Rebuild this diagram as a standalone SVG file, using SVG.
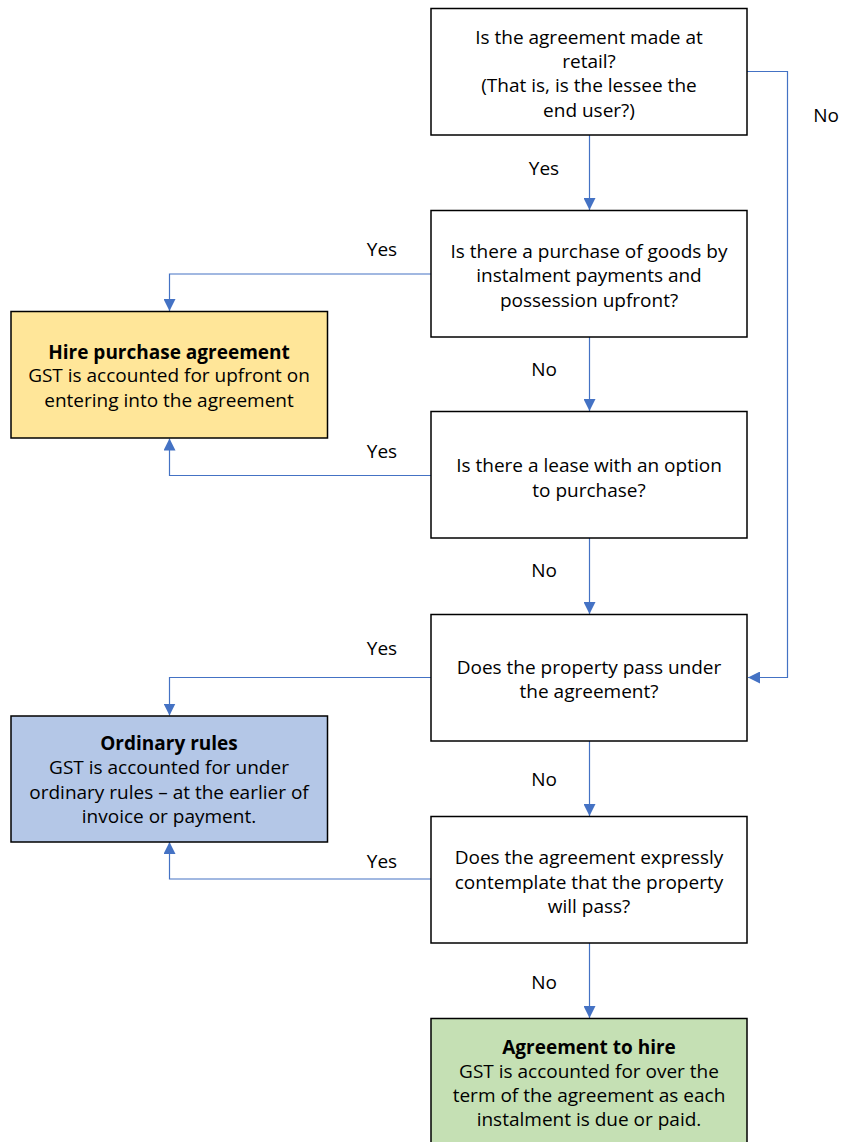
<svg xmlns="http://www.w3.org/2000/svg" width="841" height="1142" viewBox="0 0 841 1142">
<style>
text{font-family:"Open Sans","Noto Sans","Liberation Sans",sans-serif;font-size:19px;fill:#000;text-anchor:middle}
.b{font-weight:bold}
.box{stroke:#000;stroke-width:1.5}
.q{fill:#fff}
.yel{fill:#FFE699}
.blu{fill:#B4C7E7}
.grn{fill:#C5E0B4}
.c{fill:none;stroke:#4472C4;stroke-width:1.2}
</style>
<defs>
<marker id="ah" viewBox="0 0 12 12" refX="12" refY="6" markerWidth="12" markerHeight="12" markerUnits="userSpaceOnUse" orient="auto">
<path d="M0,0 L12,6 L0,12 z" fill="#4472C4"/>
</marker>
</defs>
<rect width="841" height="1142" fill="#fff"/>
<g id="connectors">
<path class="c" d="M589.5,135 V210" marker-end="url(#ah)"/>
<path class="c" d="M589.5,337 V411" marker-end="url(#ah)"/>
<path class="c" d="M589.5,538 V614" marker-end="url(#ah)"/>
<path class="c" d="M589.5,741 V816" marker-end="url(#ah)"/>
<path class="c" d="M589.5,943 V1018" marker-end="url(#ah)"/>
<path class="c" d="M747,71.5 H787.5 V677.5 H748" marker-end="url(#ah)"/>
<path class="c" d="M431,274 H169.5 V311" marker-end="url(#ah)"/>
<path class="c" d="M431,475.5 H169.5 V438.5" marker-end="url(#ah)"/>
<path class="c" d="M431,677.5 H169.5 V715.5" marker-end="url(#ah)"/>
<path class="c" d="M431,879 H169.5 V842" marker-end="url(#ah)"/>
<text x="544" y="175">Yes</text>
<text x="544" y="376">No</text>
<text x="544" y="577">No</text>
<text x="544" y="786">No</text>
<text x="544" y="989">No</text>
<text x="382" y="256">Yes</text>
<text x="382" y="458">Yes</text>
<text x="382" y="655">Yes</text>
<text x="382" y="868">Yes</text>
<text x="826" y="122">No</text>
</g>
<g id="q1">
<rect class="box q" x="431" y="8.5" width="316" height="126.5"/>
<text x="589" y="43.5">Is the agreement made at</text>
<text x="589" y="67.5">retail?</text>
<text x="589" y="92">(That is, is the lessee the</text>
<text x="589" y="116.5">end user?)</text>
</g>
<g id="q2">
<rect class="box q" x="431" y="210.5" width="316" height="126.5"/>
<text x="589" y="257.5">Is there a purchase of goods by</text>
<text x="589" y="281.5">instalment payments and</text>
<text x="589" y="306.5">possession upfront?</text>
</g>
<g id="q3">
<rect class="box q" x="431" y="411.5" width="316" height="126.5"/>
<text x="589" y="471.5">Is there a lease with an option</text>
<text x="589" y="496.5">to purchase?</text>
</g>
<g id="q4">
<rect class="box q" x="431" y="614.5" width="316" height="126.5"/>
<text x="589" y="673.5">Does the property pass under</text>
<text x="589" y="697.5">the agreement?</text>
</g>
<g id="q5">
<rect class="box q" x="431" y="816.5" width="316" height="126.5"/>
<text x="589" y="863.5">Does the agreement expressly</text>
<text x="589" y="888.5">contemplate that the property</text>
<text x="589" y="912.5">will pass?</text>
</g>
<g id="hire-purchase">
<rect class="box yel" x="11" y="311.5" width="316.5" height="126.5"/>
<text class="b" x="169" y="358.5">Hire purchase agreement</text>
<text x="169" y="382">GST is accounted for upfront on</text>
<text x="169" y="406.5">entering into the agreement</text>
</g>
<g id="ordinary-rules">
<rect class="box blu" x="11" y="716" width="316.5" height="126"/>
<text class="b" x="169" y="749.5">Ordinary rules</text>
<text x="169" y="773.5">GST is accounted for under</text>
<text x="169" y="798.5">ordinary rules – at the earlier of</text>
<text x="169" y="823">invoice or payment.</text>
</g>
<g id="agreement-to-hire">
<rect class="box grn" x="431" y="1018.5" width="316" height="130"/>
<text class="b" x="589" y="1053.5">Agreement to hire</text>
<text x="589" y="1078">GST is accounted for over the</text>
<text x="589" y="1102">term of the agreement as each</text>
<text x="589" y="1125.5">instalment is due or paid.</text>
</g>
</svg>
